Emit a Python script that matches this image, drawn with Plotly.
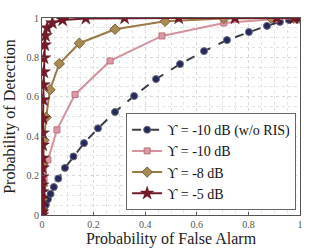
import plotly.graph_objects as go

# w/o RIS, -10 dB
pfa_norIS = [0, 0.003, 0.008, 0.015, 0.023, 0.033, 0.046, 0.063, 0.089, 0.122, 0.163, 0.217,
             0.283, 0.357, 0.442, 0.535, 0.628, 0.717, 0.802, 0.872, 0.922, 0.957, 0.982, 0.995, 1]
pd_norIS = [0, 0.012, 0.028, 0.052, 0.08, 0.107, 0.142, 0.185, 0.239, 0.297, 0.365, 0.44,
            0.523, 0.604, 0.69, 0.766, 0.832, 0.888, 0.929, 0.96, 0.98, 0.99, 0.996, 0.999, 1]

# -10 dB
pfa_m10 = [0, 0.0005, 0.002, 0.008, 0.023, 0.058, 0.128, 0.264, 0.465, 0.705, 0.907, 1]
pd_m10 = [0, 0.03, 0.09, 0.18, 0.28, 0.432, 0.612, 0.782, 0.909, 0.975, 0.995, 1]

# -8 dB
pfa_m8 = [0, 0.0005, 0.001, 0.002, 0.004, 0.008, 0.016, 0.031, 0.067, 0.145, 0.283, 0.477,
          0.705, 0.888, 0.975, 1]
pd_m8 = [0, 0.03, 0.08, 0.15, 0.26, 0.38, 0.496, 0.636, 0.768, 0.872, 0.943, 0.983,
         0.998, 1, 1, 1]

# -5 dB
pfa_m5 = [0, 0, 0, 0, 0.001, 0.001, 0.001, 0.002, 0.002, 0.003, 0.003, 0.004, 0.005, 0.006,
          0.007, 0.008, 0.011, 0.014, 0.02, 0.04, 0.08, 0.17, 0.32, 0.53, 0.748, 0.91, 0.977, 1]
pd_m5 = [0, 0.015, 0.05, 0.086, 0.117, 0.152, 0.193, 0.239, 0.289, 0.355, 0.416, 0.49, 0.584,
         0.66, 0.726, 0.797, 0.863, 0.91, 0.95, 0.975, 0.99, 0.998, 1, 1, 1, 1, 1, 1]

tick_vals = [0, 0.2, 0.4, 0.6, 0.8, 1]
tick_text = ["0", "0.2", "0.4", "0.6", "0.8", "1"]

names = ["ϒ = -10 dB (w/o RIS)", "ϒ = -10 dB", "ϒ = -8 dB", "ϒ = -5 dB"]

fig = go.Figure()
fig.add_trace(go.Scatter(x=pfa_norIS, y=pd_norIS, mode="lines+markers", name=names[0],
                         line=dict(color="#3c3c46", width=2, dash="dash"),
                         marker=dict(symbol="circle", size=7, color="#25285a",
                                     line=dict(color="#6a6a7a", width=1))))
fig.add_trace(go.Scatter(x=pfa_m10, y=pd_m10, mode="lines+markers", name=names[1],
                         line=dict(color="#d4929c", width=2),
                         marker=dict(symbol="square", size=6, color="#d99aa3",
                                     line=dict(color="#c07080", width=1))))
fig.add_trace(go.Scatter(x=pfa_m8, y=pd_m8, mode="lines+markers", name=names[2],
                         line=dict(color="#9c7a48", width=2),
                         marker=dict(symbol="diamond", size=8, color="#a88a55",
                                     line=dict(color="#7a5f35", width=1))))
fig.add_trace(go.Scatter(x=pfa_m5, y=pd_m5, mode="lines+markers", name=names[3],
                         line=dict(color="#741a28", width=2),
                         marker=dict(symbol="star", size=10, color="#741a28",
                                     line=dict(color="#5a1220", width=0.5))))

axis_common = dict(range=[0, 1], tickvals=tick_vals, ticktext=tick_text, automargin=False,
                   showline=True, linecolor="#555555", linewidth=1,
                   mirror=True, ticks="inside", ticklen=3, tickcolor="#555555",
                   showgrid=True, gridcolor="#d9d9d9", griddash="dot", gridwidth=1,
                   zeroline=False,
                   tickfont=dict(family="Liberation Serif", size=10, color="#555555"),
                   minor=dict(tickvals=[i * 0.05 for i in range(21)], showgrid=True,
                              gridcolor="#e3e3e3", griddash="dot", gridwidth=1))

fig.update_xaxes(**axis_common,
                 title=dict(text="Probability of False Alarm", standoff=2,
                            font=dict(family="Liberation Serif", size=16, color="#222222")))
fig.update_yaxes(**axis_common,
                 title=dict(text="Probability of Detection", standoff=6,
                            font=dict(family="Liberation Serif", size=16, color="#222222")))

fig.update_layout(
    width=332, height=249,
    margin=dict(l=42, r=32, t=18, b=34),
    plot_bgcolor="white", paper_bgcolor="white",
    showlegend=True,
    legend=dict(x=0.985, y=0.025, xanchor="right", yanchor="bottom",
                bgcolor="white", bordercolor="#666666", borderwidth=1,
                font=dict(family="Liberation Serif", size=14, color="#111111"),
                tracegroupgap=0, itemwidth=30),
)

fig.write_html("out.html", config={"displayModeBar": False},
               post_script="document.body.style.margin='0';")
